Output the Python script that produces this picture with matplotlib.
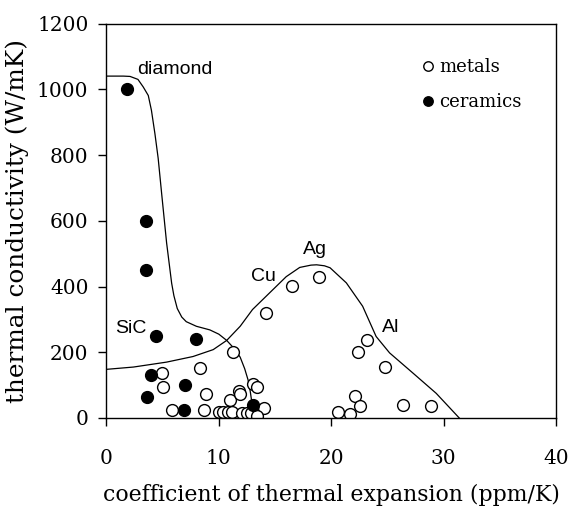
import matplotlib
matplotlib.use("Agg")
import matplotlib.pyplot as plt

# ceramics (filled circles)
ceramics_cte = [1.8, 3.5, 3.5, 4.4, 8.0, 4.0, 3.6, 7.0, 6.9, 13.0]
ceramics_k = [1000, 600, 450, 250, 240, 130, 65, 100, 25, 40]

# metals (open circles)
metals_cte = [4.9, 5.0, 8.3, 11.3, 8.9, 5.8, 8.7, 11.0, 11.8, 11.9, 13.0, 13.4,
              14.0, 10.0, 10.4, 10.8, 11.2, 12.1, 12.5, 12.9, 13.4,
              14.2, 16.5, 18.9, 23.2, 22.4, 24.8, 22.1, 22.6, 20.6, 21.7,
              26.4, 28.9]
metals_k = [138, 94, 153, 202, 73, 25, 24, 56, 82, 73, 103, 93,
            29, 17, 17, 17, 17, 14, 14, 14, 7,
            318, 403, 430, 238, 202, 156, 68, 37, 19, 11,
            40, 37]

# envelope lines
ceramic_env_x = [0, 1.5, 2.1, 2.8, 3.27, 3.72, 4.0, 4.31, 4.6, 4.9, 5.35, 5.8,
                 6.0, 6.3, 6.7, 7.1, 8.0, 9.2, 10.0, 10.7, 11.4, 11.9, 12.3,
                 12.6, 12.8, 12.95, 13.05]
ceramic_env_y = [1040, 1040, 1039, 1030, 1007, 981, 936, 865, 790, 686, 533, 410,
                 372, 333, 307, 293, 279, 268, 255, 236, 210, 185, 150,
                 116, 80, 45, 0]
metal_env_x = [0, 2.4, 5.35, 7.7, 9.5, 10.7, 11.9, 13.0, 14.8, 16.0, 17.2, 18.2,
               18.7, 19.4, 19.9, 21.35, 22.8, 24.0, 25.2, 27.3, 29.35, 31.4]
metal_env_y = [148, 155, 170, 187, 208, 236, 279, 330, 390, 430, 458, 465,
               466, 463, 457, 411, 340, 248, 198, 136, 75, 0]

labels = ["diamond", "SiC", "Cu", "Ag", "Al"]
label_x = [6.1, 2.2, 14.0, 18.6, 25.3]
label_y = [1060, 272, 431, 513, 274]

serif = ["DejaVu Serif"]
sans = ["Liberation Sans", "DejaVu Sans"]

fig = plt.figure(figsize=(5.71, 5.11), dpi=100)
ax = fig.add_axes([0.1865, 0.182, 0.787, 0.772])

ax.plot(ceramic_env_x, ceramic_env_y, color="black", lw=0.9)
ax.plot(metal_env_x, metal_env_y, color="black", lw=0.9)

ax.plot(metals_cte, metals_k, "o", ms=8.5, mfc="white", mec="black", mew=1.0,
        ls="none", label="metals")
ax.plot(ceramics_cte, ceramics_k, "o", ms=8.5, mfc="black", mec="black",
        ls="none", label="ceramics")

for t, x, y in zip(labels, label_x, label_y):
    ax.text(x, y, t, ha="center", va="center", fontsize=14, family=sans)

ax.set_xlim(0, 40)
ax.set_ylim(0, 1200)
ax.set_xticks([0, 10, 20, 30, 40])
ax.set_yticks([0, 200, 400, 600, 800, 1000, 1200])
ax.tick_params(direction="out", length=6, width=1, labelsize=14.5)
ax.tick_params(axis="x", pad=16)
ax.tick_params(axis="y", pad=7)
for lab in ax.get_xticklabels() + ax.get_yticklabels():
    lab.set_family(serif)
for s in ax.spines.values():
    s.set_linewidth(1.0)

ax.set_xlabel("coefficient of thermal expansion (ppm/K)", fontsize=15.8,
              family=serif, labelpad=12)
ax.set_ylabel("thermal conductivity (W/mK)", fontsize=17.8, family=serif,
              labelpad=6)

leg = ax.legend(loc="upper right", bbox_to_anchor=(0.952, 0.945), frameon=False,
                markerscale=0.8, handlelength=0.5, handletextpad=0.35,
                labelspacing=0.95, borderpad=0.2,
                prop={"family": serif, "size": 13})

fig.savefig("out.png", dpi=100)
